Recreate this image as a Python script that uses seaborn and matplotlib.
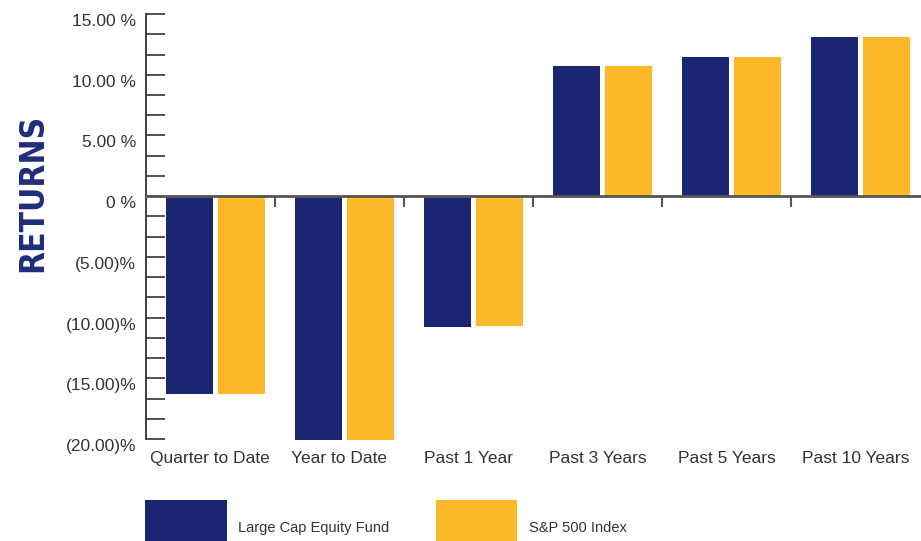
import numpy as np
import pandas as pd
import matplotlib
matplotlib.use("Agg")
import matplotlib.pyplot as plt
import seaborn as sns
from matplotlib.ticker import MultipleLocator
from matplotlib.transforms import ScaledTranslation

# Annualized / period returns, in percent
periods = ["Quarter to Date", "Year to Date", "Past 1 Year",
           "Past 3 Years", "Past 5 Years", "Past 10 Years"]
fund_returns = [-16.3, -20.1, -10.8, 10.7, 11.5, 13.1]
index_returns = [-16.3, -20.1, -10.7, 10.7, 11.5, 13.1]
series_names = ["Large Cap Equity Fund", "S&P 500 Index"]

y_ticks = [15, 10, 5, 0, -5, -10, -15, -20]
y_tick_labels = ["15.00 %", "10.00 %", "5.00 %", "0 %",
                 "(5.00)%", "(10.00)%", "(15.00)%", "(20.00)%"]

NAVY = "#1b2672"
GOLD = "#fcb827"
INK = "#333333"
AXIS = "#555555"

df = pd.DataFrame({
    "period": periods * 2,
    "series": [series_names[0]] * len(periods) + [series_names[1]] * len(periods),
    "value": fund_returns + index_returns,
})

sns.set_theme(style="white")
plt.rcParams["font.family"] = ["Liberation Sans", "DejaVu Sans"]

fig = plt.figure(figsize=(9.21, 5.41), dpi=100)
ax = fig.add_axes([0.1585, 0.184, 0.8405, 0.790])

sns.barplot(data=df, x="period", y="value", hue="series",
            order=periods, hue_order=series_names,
            palette=[NAVY, GOLD], saturation=1,
            width=0.806, gap=0.1, linewidth=0, ax=ax)

ax.set_xlim(-0.539, len(periods) - 0.539)
ax.set_ylim(-20.2, 15)
ax.set_xlabel("")
ax.set_ylabel("")

# Spines: left axis with inward ticks, baseline at zero
for side in ("top", "right"):
    ax.spines[side].set_visible(False)
ax.spines["left"].set_bounds(-20, 15)
ax.spines["left"].set_color(INK)
ax.spines["left"].set_linewidth(1.3)
ax.spines["bottom"].set_position(("data", 0))
ax.spines["bottom"].set_color(AXIS)
ax.spines["bottom"].set_linewidth(2)

ax.set_yticks(y_ticks, labels=y_tick_labels)
ax.yaxis.set_minor_locator(MultipleLocator(5 / 3))
ax.tick_params(axis="y", which="both", direction="in", length=14, width=1.2,
               color=INK, left=True)
ax.tick_params(axis="y", which="major", labelsize=12.5, labelcolor=INK, pad=7)
shift = ScaledTranslation(0, -0.06, fig.dpi_scale_trans)
for lbl in ax.get_yticklabels():
    lbl.set_transform(lbl.get_transform() + shift)

# Group separators hang below the zero line
ax.set_xticks(np.arange(len(periods) - 1) + 0.461)
ax.tick_params(axis="x", which="major", direction="out", length=8, width=1.5,
               color=AXIS, bottom=True, labelbottom=False)

# Category names sit under the plot area
sec = ax.secondary_xaxis("bottom")
sec.set_xticks(np.arange(len(periods)) - 0.04, labels=periods)
sec.tick_params(length=0, pad=7, labelsize=12.5, labelcolor=INK)
sec.spines["bottom"].set_visible(False)

ax.grid(False)

# Legend with large swatches along the bottom
handles, labels = ax.get_legend_handles_labels()
ax.get_legend().remove()
fig.legend(handles, labels, loc="upper left",
           bbox_to_anchor=(145 / 921, 1 - 500 / 541),
           ncol=2, frameon=False, fontsize=10.5, labelcolor=INK,
           handlelength=5.6, handleheight=5.7, handletextpad=0.8,
           columnspacing=3.15, borderpad=0, borderaxespad=0)

fig.text(33 / 921, 1 - 193 / 541, "RETURNS", rotation=90,
         ha="center", va="center", fontsize=24, fontweight="bold",
         fontstretch="condensed", color="#1f2d7a",
         family=["DejaVu Sans"])

fig.savefig("out.png", dpi=100)
